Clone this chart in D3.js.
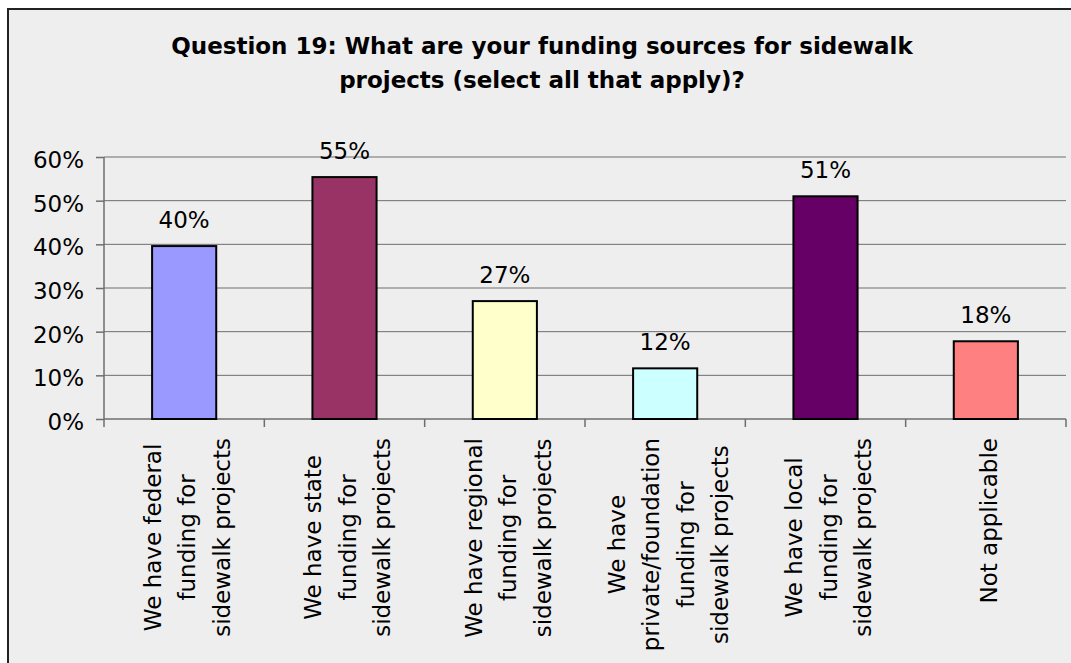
<!DOCTYPE html>
<html>
<head>
<meta charset="utf-8">
<script src="https://d3js.org/d3.v7.min.js"></script>
<style>
  body { margin: 0; background: #ffffff; }
  text { font-family: "DejaVu Sans", Verdana, sans-serif; fill: #000; }
</style>
</head>
<body>
<div id="chart"></div>
<script>

var titleLines = ["Question 19: What are your funding sources for sidewalk", "projects (select all that apply)?"];

var categories = [
  ["We have federal", "funding for", "sidewalk projects"],
  ["We have state", "funding for", "sidewalk projects"],
  ["We have regional", "funding for", "sidewalk projects"],
  ["We have", "private/foundation", "funding for", "sidewalk projects"],
  ["We have local", "funding for", "sidewalk projects"],
  ["Not applicable"]
];

var values = [0.396, 0.554, 0.27, 0.116, 0.51, 0.178];

var barColors = ["#9999ff", "#993366", "#ffffcc", "#ccffff", "#660066", "#ff8080"];

var yTicks = [0, 0.1, 0.2, 0.3, 0.4, 0.5, 0.6];

var data = categories.map((lines, i) => ({name: lines.join(" "), lines: lines, value: values[i], color: barColors[i]}));

var width = 1071, height = 663;
var margin = {top: 157, right: 5, bottom: 244, left: 104};
var chartWidth = width - margin.left - margin.right;
var chartHeight = height - margin.top - margin.bottom;

var svg = d3.select("#chart").append("svg")
    .attr("width", width)
    .attr("height", height);

// chart area background + frame
svg.append("rect")
    .attr("x", 8)
    .attr("y", 9)
    .attr("width", width + 20)
    .attr("height", height + 20)
    .attr("fill", "#eeeeee")
    .attr("stroke", "#222")
    .attr("stroke-width", 2);

svg.append("g")
    .selectAll("text")
    .data(titleLines)
    .join("text")
    .attr("x", 542)
    .attr("y", (d, i) => 54 + i * 34)
    .attr("text-anchor", "middle")
    .attr("font-size", 23)
    .attr("font-weight", "bold")
    .text(d => d);

var g = svg.append("g")
    .attr("transform", `translate(${margin.left}, ${margin.top})`);

var xScale = d3.scaleBand()
    .domain(data.map(d => d.name))
    .range([0, chartWidth])
    .padding(0);

var yScale = d3.scaleLinear()
    .domain([0, 0.6])
    .range([chartHeight, 0]);

// gridlines
g.append("g")
    .selectAll("line")
    .data(yTicks.slice(1))
    .join("line")
    .attr("x1", 0)
    .attr("x2", chartWidth)
    .attr("y1", d => yScale(d))
    .attr("y2", d => yScale(d))
    .attr("stroke", "#6e6e6e")
    .attr("stroke-width", 1);

var yAxis = d3.axisLeft(yScale)
    .tickValues(yTicks)
    .tickFormat(d3.format(".0%"))
    .tickSize(8)
    .tickPadding(12);

var yG = g.append("g")
    .attr("class", "y axis")
    .call(yAxis);
yG.select(".domain").attr("stroke", "#6e6e6e").attr("stroke-width", 1.5)
    .attr("d", `M0,${chartHeight}V0`);
yG.selectAll(".tick line").attr("stroke", "#6e6e6e").attr("stroke-width", 1.5);
yG.selectAll(".tick text")
    .attr("font-size", 23)
    .attr("font-family", "DejaVu Sans")
    .attr("fill", "#000")
    .attr("dy", "0.46em");

// x axis line with boundary ticks
var xG = g.append("g")
    .attr("transform", `translate(0,${chartHeight})`);
xG.append("line")
    .attr("x1", 0)
    .attr("x2", chartWidth)
    .attr("stroke", "#6e6e6e")
    .attr("stroke-width", 1.5);
var boundaries = data.map(d => xScale(d.name)).concat([chartWidth]);
xG.selectAll(".xtick")
    .data(boundaries)
    .join("line")
    .attr("class", "xtick")
    .attr("x1", d => d)
    .attr("x2", d => d)
    .attr("y1", 0)
    .attr("y2", 8)
    .attr("stroke", "#6e6e6e")
    .attr("stroke-width", 1.5);

var barW = xScale.bandwidth() * 0.4;

g.selectAll(".bar")
    .data(data)
    .join("rect")
    .attr("class", "bar")
    .attr("x", d => xScale(d.name) + (xScale.bandwidth() - barW) / 2)
    .attr("y", d => yScale(d.value))
    .attr("width", barW)
    .attr("height", d => chartHeight - yScale(d.value))
    .attr("fill", d => d.color)
    .attr("stroke", "#000")
    .attr("stroke-width", 2);

g.selectAll(".value-label")
    .data(data)
    .join("text")
    .attr("class", "value-label")
    .attr("x", d => xScale(d.name) + xScale.bandwidth() / 2)
    .attr("y", d => yScale(d.value) - 18)
    .attr("text-anchor", "middle")
    .attr("font-size", 23)
    .text(d => d3.format(".0%")(d.value));

// rotated category labels, block top aligned just under the axis
var lineGap = 34.5;
data.forEach(function(d) {
  var cx = xScale(d.name) + xScale.bandwidth() / 2 + 3;
  var labels = g.append("g");
  var texts = labels.selectAll("text")
      .data(d.lines)
      .join("text")
      .attr("text-anchor", "middle")
      .attr("font-size", 23)
      .attr("dy", "0.36em")
      .text(t => t);
  var maxW = d3.max(texts.nodes(), n => n.getComputedTextLength());
  var cy = chartHeight + 19 + maxW / 2;
  texts.attr("transform", (t, i) => {
    var x = cx + (i - (d.lines.length - 1) / 2) * lineGap;
    return `translate(${x},${cy}) rotate(-90)`;
  });
});

</script>
</body>
</html>
